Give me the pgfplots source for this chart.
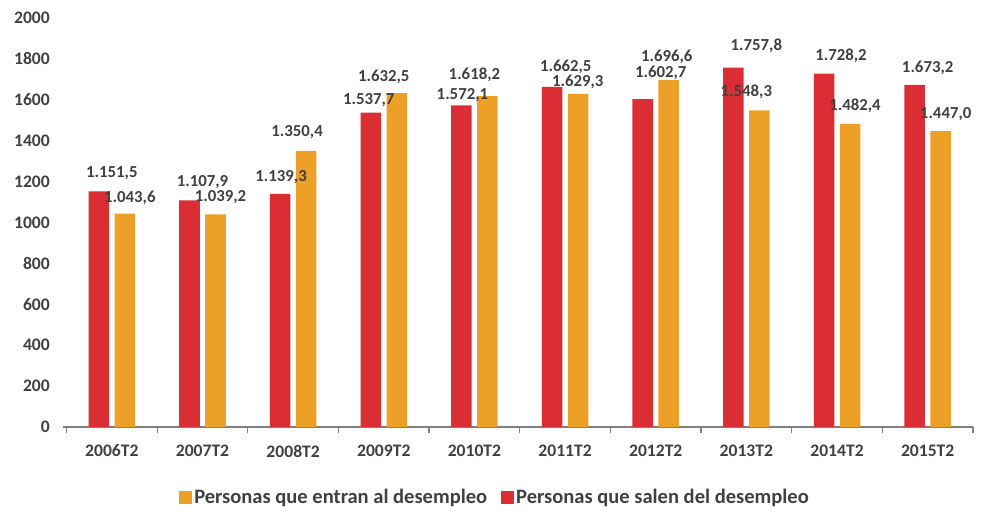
\documentclass[border=0pt]{standalone}
\usepackage{fontspec}
\setmainfont{Carlito}
\usepackage{pgfplots}
\pgfplotsset{compat=1.18}
\usepackage{pgfplotstable}
\definecolor{redc}{RGB}{218,46,52}
\definecolor{orac}{RGB}{237,160,39}
\definecolor{txt}{RGB}{64,64,64}
\definecolor{axc}{RGB}{128,128,128}

\pgfplotstableread{
x y dx dy
0 1151.5 0 13.9
1 1107.9 0 13.8
2 1139.3 -9 12.75
3 1537.7 -11.25 9.4
4 1572.1 -9 7.9
5 1662.5 0.5 15.2
6 1602.7 3.75 20
7 1757.8 7.5 16.5
8 1728.2 3 13.3
9 1673.2 0 12.5
}\salen

\pgfplotstableread{
x y dx dy
0 1043.6 13.5 12
1 1039.2 13.5 13.1
2 1350.4 3 14.25
3 1632.5 0 12.5
4 1618.2 0 15.75
5 1629.3 9.5 8.6
6 1696.6 8.25 17
7 1548.3 0 14.25
8 1482.4 13.5 13.3
9 1447.0 13.5 12.5
}\entran

\begin{document}
\begin{tikzpicture}
\useasboundingbox (-49.9pt,-64.5pt) rectangle (694.25pt,320.25pt);
\begin{axis}[
  at={(0,0)}, anchor=south west,
  scale only axis, width=680pt, height=306.75pt,
  xmin=-0.5, xmax=9.5, ymin=0, ymax=2000,
  ytick={0,200,...,2000},
  xtick={0,...,9},
  xticklabels={2006T2,2007T2,2008T2,2009T2,2010T2,2011T2,2012T2,2013T2,2014T2,2015T2},
  axis x line*=bottom, axis y line*=left,
  y axis line style={draw=none},
  x axis line style={draw=axc, line width=1.5pt, shorten <=-3pt},
  major tick length=0pt,
  tick style={draw=axc, line width=1pt},
  extra x ticks={-0.5,0.5,...,9.5},
  extra x tick labels={},
  extra x tick style={major tick length=4.5pt, tick align=outside},
  ticklabel style={font=\bfseries\fontsize{13.2}{15}\selectfont, text=txt},
  yticklabel style={/pgf/number format/1000 sep={}, xshift=-9pt},
  xticklabel style={yshift=-10pt},
  /pgf/number format/assume math mode=true,
  clip=false,
  legend style={at={(0.4727,-0.1720)}, anchor=center, draw=none, fill=none,
    font=\bfseries\fontsize{15.4}{17}\selectfont, text=txt,
    legend columns=2,
    /tikz/every even column/.append style={column sep=8pt},
    legend cell align=left},
  legend image code/.code={\fill[#1] (0pt,-4.9pt) rectangle (9.75pt,4.9pt);},
]
\addlegendimage{fill=orac, draw=none}
\addlegendentry{Personas que entran al desempleo}
\addlegendimage{fill=redc, draw=none}
\addlegendentry{Personas que salen del desempleo}

\addplot[ybar, bar width=15.4pt, bar shift=-9.75pt, fill=redc, draw=none, forget plot,
  visualization depends on={\thisrow{dx} \as \dx},
  visualization depends on={\thisrow{dy} \as \dy},
  nodes near coords={\pgfmathprintnumber[fixed,fixed zerofill,precision=1,use comma,1000 sep={.},assume math mode=true]{\pgfplotspointmeta}},
  every node near coord/.append style={anchor=center, yshift=\dy pt, xshift=\dx pt, text=txt, font=\bfseries\fontsize{12.6}{14}\selectfont}]
  table[x=x, y=y] {\salen};

\addplot[ybar, bar width=15.4pt, bar shift=9.75pt, fill=orac, draw=none, forget plot,
  visualization depends on={\thisrow{dx} \as \dx},
  visualization depends on={\thisrow{dy} \as \dy},
  nodes near coords={\pgfmathprintnumber[fixed,fixed zerofill,precision=1,use comma,1000 sep={.},assume math mode=true]{\pgfplotspointmeta}},
  every node near coord/.append style={anchor=center, yshift=\dy pt, xshift=\dx pt, text=txt, font=\bfseries\fontsize{12.6}{14}\selectfont}]
  table[x=x, y=y] {\entran};
\end{axis}
\end{tikzpicture}
\end{document}
